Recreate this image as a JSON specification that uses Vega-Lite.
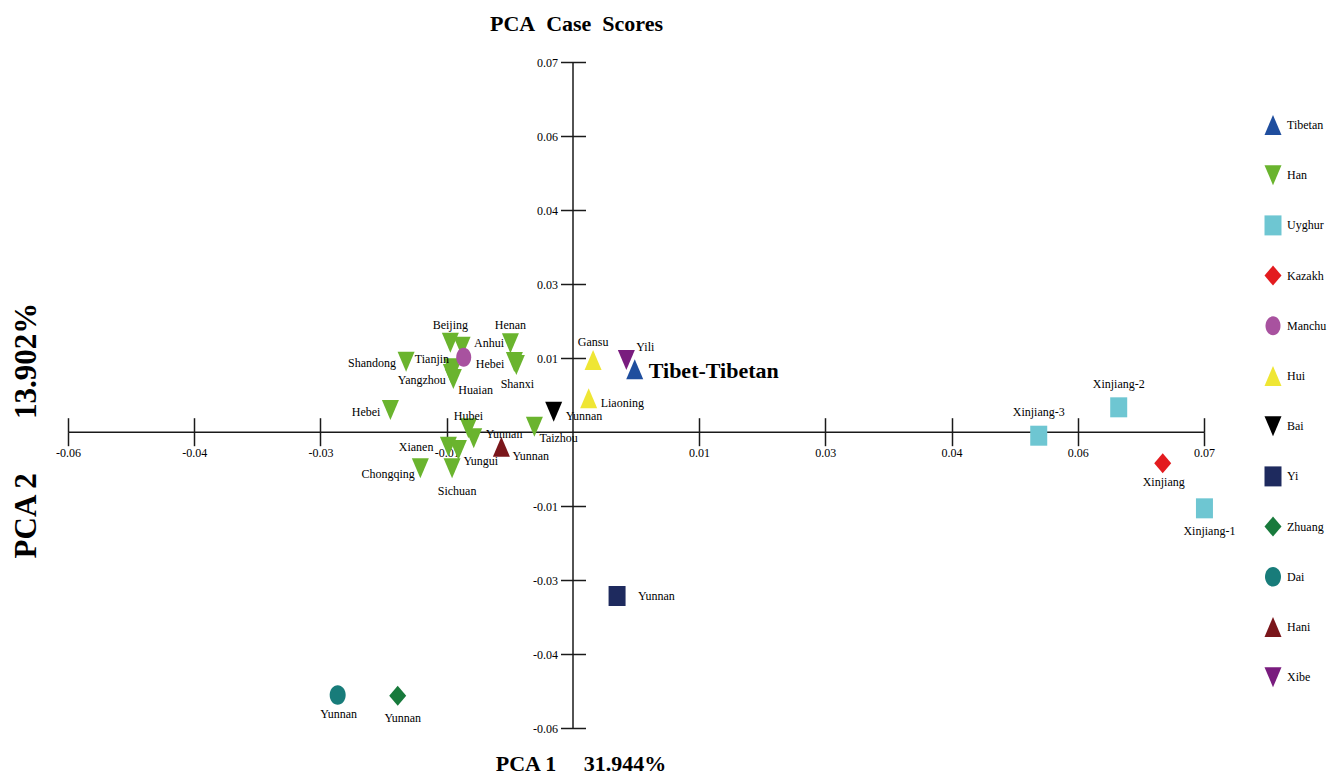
{
  "$schema": "https://vega.github.io/schema/vega-lite/v6.json",
  "autosize": "none",
  "width": 1136,
  "height": 666,
  "padding": {"left": 68, "top": 62, "right": 137, "bottom": 47},
  "background": "white",
  "title": {"text": "PCA\u00a0 Case\u00a0 Scores", "anchor": "middle", "frame": "group", "dx": -59.5, "fontSize": 22, "font": "Liberation Serif", "fontWeight": "bold", "color": "black", "baseline": "alphabetic", "offset": 3},
  "config": {"view": {"stroke": null}, "font": "Liberation Serif"},
  "data": {"values": [
    {"id": "Han-Beijing", "group": "Han", "label": "Beijing", "pc1": -0.01359, "pc2": 0.01690},
    {"id": "Han-Anhui", "group": "Han", "label": "Anhui", "pc1": -0.01229, "pc2": 0.01614},
    {"id": "Han-Henan", "group": "Han", "label": "Henan", "pc1": -0.00693, "pc2": 0.01678},
    {"id": "Han-Hebei", "group": "Han", "label": "Hebei", "pc1": -0.00649, "pc2": 0.01324},
    {"id": "Han-Shanxi", "group": "Han", "label": "Shanxi", "pc1": -0.00627, "pc2": 0.01268},
    {"id": "Han-Shandong", "group": "Han", "label": "Shandong", "pc1": -0.01850, "pc2": 0.01330},
    {"id": "Han-Tianjin", "group": "Han", "label": "Tianjin", "pc1": -0.01340, "pc2": 0.01205},
    {"id": "Han-Yangzhou", "group": "Han", "label": "Yangzhou", "pc1": -0.01348, "pc2": 0.01097},
    {"id": "Han-Huaian", "group": "Han", "label": "Huaian", "pc1": -0.01326, "pc2": 0.01003},
    {"id": "Han-Hebei-2", "group": "Han", "label": "Hebei", "pc1": -0.02024, "pc2": 0.00416},
    {"id": "Han-Hubei", "group": "Han", "label": "Hubei", "pc1": -0.01159, "pc2": 0.00070},
    {"id": "Han-Yunnan", "group": "Han", "label": "Yunnan", "pc1": -0.01100, "pc2": -0.00119},
    {"id": "Han-Taizhou", "group": "Han", "label": "Taizhou", "pc1": -0.00427, "pc2": 0.00100},
    {"id": "Han-Xianen", "group": "Han", "label": "Xianen", "pc1": -0.01381, "pc2": -0.00278},
    {"id": "Han-Yungui", "group": "Han", "label": "Yungui", "pc1": -0.01270, "pc2": -0.00341},
    {"id": "Han-Sichuan", "group": "Han", "label": "Sichuan", "pc1": -0.01340, "pc2": -0.00687},
    {"id": "Han-Chongqing", "group": "Han", "label": "Chongqing", "pc1": -0.01692, "pc2": -0.00687},
    {"id": "Hui-Gansu", "group": "Hui", "label": "Gansu", "pc1": 0.00224, "pc2": 0.01362},
    {"id": "Hui-Liaoning", "group": "Hui", "label": "Liaoning", "pc1": 0.00175, "pc2": 0.00638},
    {"id": "Bai-Yunnan", "group": "Bai", "label": "Yunnan", "pc1": -0.00213, "pc2": 0.00384},
    {"id": "Yi-Yunnan", "group": "Yi", "label": "Yunnan", "pc1": 0.00490, "pc2": -0.03103},
    {"id": "Zhuang-Yunnan", "group": "Zhuang", "label": "Yunnan", "pc1": -0.01943, "pc2": -0.04989},
    {"id": "Dai-Yunnan", "group": "Dai", "label": "Yunnan", "pc1": -0.02609, "pc2": -0.04976},
    {"id": "Hani-Yunnan", "group": "Hani", "label": "Yunnan", "pc1": -0.00793, "pc2": -0.00278},
    {"id": "Uyghur-Xinjiang-3", "group": "Uyghur", "label": "Xinjiang-3", "pc1": 0.05167, "pc2": -0.00070},
    {"id": "Uyghur-Xinjiang-2", "group": "Uyghur", "label": "Xinjiang-2", "pc1": 0.06054, "pc2": 0.00467},
    {"id": "Uyghur-Xinjiang-1", "group": "Uyghur", "label": "Xinjiang-1", "pc1": 0.07005, "pc2": -0.01444},
    {"id": "Kazakh-Xinjiang", "group": "Kazakh", "label": "Xinjiang", "pc1": 0.06542, "pc2": -0.00592},
    {"id": "Xibe-Yili", "group": "Xibe", "label": "Yili", "pc1": 0.00593, "pc2": 0.01362},
    {"id": "Manchu", "group": "Manchu", "label": "", "pc1": -0.01211, "pc2": 0.01413},
    {"id": "Tibetan-Tibet", "group": "Tibetan", "label": "Tibet-Tibetan", "pc1": 0.00686, "pc2": 0.01186}
  ]},
  "resolve": {"axis": {"x": "independent", "y": "independent"}},
  "layer": [
    {
      "mark": {"type": "point", "filled": true, "opacity": 1, "size": 400, "strokeWidth": 0},
      "encoding": {
        "x": {"field": "pc1", "type": "quantitative", "scale": {"domain": [-0.056, 0.07], "nice": false, "zero": false},
          "axis": {"orient": "bottom", "offset": -296.3, "values": [-0.056, -0.042, -0.028, -0.014, 0.014, 0.028, 0.042, 0.056, 0.07],
            "labelExpr": "(datum.value < 0 ? '-' : '') + format(abs(datum.value), '.2f')",
            "tickSize": 14, "labelPadding": 2, "grid": false, "labelFlush": false, "labelOverlap": false,
            "domainColor": "#1a1a1a", "tickColor": "#1a1a1a", "domainWidth": 1.5, "tickWidth": 1.5,
            "labelFont": "Liberation Serif", "labelFontSize": 12, "labelColor": "black",
            "title": "PCA 1\u00a0\u00a0\u00a0\u00a0\u00a031.944%", "titleX": 512.5, "titleY": 339, "titleAlign": "center", "titleBaseline": "alphabetic",
            "titleFont": "Liberation Serif", "titleFontSize": 22, "titleFontWeight": "bold", "titleColor": "black"}},
        "y": {"field": "pc2", "type": "quantitative", "scale": {"domain": [-0.056, 0.07], "nice": false, "zero": false},
          "axis": {"orient": "left", "offset": -504.5, "values": [-0.056, -0.042, -0.028, -0.014, 0.014, 0.028, 0.042, 0.056, 0.07],
            "labelExpr": "(datum.value < 0 ? '-' : '') + format(abs(datum.value), '.2f')",
            "tickSize": 12, "labelPadding": 3, "grid": false, "labelFlush": false, "labelOverlap": false,
            "domainColor": "#1a1a1a", "tickColor": "#1a1a1a", "domainWidth": 1.5, "tickWidth": 1.5,
            "labelFont": "Liberation Serif", "labelFontSize": 12, "labelColor": "black",
            "title": "PCA 2\u00a0\u00a0\u00a0\u00a0\u00a0\u00a0\u00a013.902%", "titleX": -537.5, "titleY": 368, "titleAngle": -90, "titleAlign": "center", "titleBaseline": "alphabetic",
            "titleFont": "Liberation Serif", "titleFontSize": 31, "titleFontWeight": "bold", "titleColor": "black"}},
        "color": {"field": "group", "type": "nominal",
          "scale": {"domain": ["Tibetan", "Han", "Uyghur", "Kazakh", "Manchu", "Hui", "Bai", "Yi", "Zhuang", "Dai", "Hani", "Xibe"],
            "range": ["#1F4E9E", "#6AB42E", "#6EC6D2", "#E31B1F", "#A8529F", "#EFE634", "#000000", "#1E2A5E", "#187A3C", "#187C7A", "#7A161B", "#791C7E"]},
          "legend": {"orient": "none", "legendX": 1195, "legendY": 53, "title": null, "padding": 0, "rowPadding": 30.2, "symbolSize": 400,
            "labelFont": "Liberation Serif", "labelFontSize": 12, "labelColor": "black", "labelOffset": 4, "symbolStrokeWidth": 0, "symbolOpacity": 1}},
        "shape": {"field": "group", "type": "nominal",
          "scale": {"domain": ["Tibetan", "Han", "Uyghur", "Kazakh", "Manchu", "Hui", "Bai", "Yi", "Zhuang", "Dai", "Hani", "Xibe"],
            "range": ["M0,-1L0.85,1L-0.85,1Z", "M-0.85,-1L0.85,-1L0,1Z", "M-0.85,-1L0.85,-1L0.85,1L-0.85,1Z", "M0,-1L0.85,0L0,1L-0.85,0Z",
              "M-0.75,0A0.75,0.95,0,1,0,0.75,0A0.75,0.95,0,1,0,-0.75,0Z", "M0,-1L0.85,1L-0.85,1Z", "M-0.85,-1L0.85,-1L0,1Z", "M-0.85,-1L0.85,-1L0.85,1L-0.85,1Z",
              "M0,-1L0.85,0L0,1L-0.85,0Z", "M-0.8,0A0.8,0.98,0,1,0,0.8,0A0.8,0.98,0,1,0,-0.8,0Z", "M0,-1L0.85,1L-0.85,1Z", "M-0.85,-1L0.85,-1L0,1Z"]}}
      }
    },
    {
      "transform": [{"filter": {"field": "id", "equal": "Tibetan-Tibet"}}],
      "mark": {"type": "text", "align": "left", "baseline": "middle", "dx": 14, "dy": 2, "font": "Liberation Serif", "fontSize": 22, "fontWeight": "bold", "color": "black"},
      "encoding": {
        "x": {"field": "pc1", "type": "quantitative", "scale": {"domain": [-0.056, 0.07], "nice": false, "zero": false},
          "axis": {"orient": "top", "offset": -369.7, "values": [-0.056, -0.042, -0.028, -0.014, 0.014, 0.028, 0.042, 0.056, 0.07], "labels": false, "domain": false, "tickSize": 14, "tickColor": "#1a1a1a", "tickWidth": 1.5, "grid": false, "title": null}},
        "y": {"field": "pc2", "type": "quantitative", "scale": {"domain": [-0.056, 0.07], "nice": false, "zero": false},
          "axis": {"orient": "right", "offset": -631.5, "values": [-0.056, -0.042, -0.028, -0.014, 0.014, 0.028, 0.042, 0.056, 0.07], "labels": false, "domain": false, "tickSize": 13, "tickColor": "#1a1a1a", "tickWidth": 1.5, "grid": false, "title": null}},
        "text": {"field": "label"}
      }
    },
    {
      "transform": [{"filter": {"field": "id", "oneOf": ["Han-Beijing", "Han-Henan", "Hui-Gansu"]}}],
      "mark": {"type": "text", "align": "center", "baseline": "middle", "dx": 0, "dy": -18, "font": "Liberation Serif", "fontSize": 12, "color": "black"},
      "encoding": {"x": {"field": "pc1", "type": "quantitative", "axis": null}, "y": {"field": "pc2", "type": "quantitative", "axis": null}, "text": {"field": "label"}}
    },
    {
      "transform": [{"filter": {"field": "id", "oneOf": ["Uyghur-Xinjiang-3", "Uyghur-Xinjiang-2"]}}],
      "mark": {"type": "text", "align": "center", "baseline": "middle", "dx": 0, "dy": -23.5, "font": "Liberation Serif", "fontSize": 12, "color": "black"},
      "encoding": {"x": {"field": "pc1", "type": "quantitative", "axis": null}, "y": {"field": "pc2", "type": "quantitative", "axis": null}, "text": {"field": "label"}}
    },
    {
      "transform": [{"filter": {"field": "id", "oneOf": ["Han-Hubei"]}}],
      "mark": {"type": "text", "align": "center", "baseline": "middle", "dx": 0, "dy": -12, "font": "Liberation Serif", "fontSize": 12, "color": "black"},
      "encoding": {"x": {"field": "pc1", "type": "quantitative", "axis": null}, "y": {"field": "pc2", "type": "quantitative", "axis": null}, "text": {"field": "label"}}
    },
    {
      "transform": [{"filter": {"field": "id", "oneOf": ["Han-Shanxi", "Kazakh-Xinjiang", "Dai-Yunnan"]}}],
      "mark": {"type": "text", "align": "center", "baseline": "middle", "dx": 1, "dy": 19, "font": "Liberation Serif", "fontSize": 12, "color": "black"},
      "encoding": {"x": {"field": "pc1", "type": "quantitative", "axis": null}, "y": {"field": "pc2", "type": "quantitative", "axis": null}, "text": {"field": "label"}}
    },
    {
      "transform": [{"filter": {"field": "id", "oneOf": ["Han-Sichuan", "Zhuang-Yunnan", "Uyghur-Xinjiang-1"]}}],
      "mark": {"type": "text", "align": "center", "baseline": "middle", "dx": 5, "dy": 22.5, "font": "Liberation Serif", "fontSize": 12, "color": "black"},
      "encoding": {"x": {"field": "pc1", "type": "quantitative", "axis": null}, "y": {"field": "pc2", "type": "quantitative", "axis": null}, "text": {"field": "label"}}
    },
    {
      "transform": [{"filter": {"field": "id", "oneOf": ["Han-Anhui", "Han-Yunnan"]}}],
      "mark": {"type": "text", "align": "left", "baseline": "middle", "dx": 12, "dy": -4, "font": "Liberation Serif", "fontSize": 12, "color": "black"},
      "encoding": {"x": {"field": "pc1", "type": "quantitative", "axis": null}, "y": {"field": "pc2", "type": "quantitative", "axis": null}, "text": {"field": "label"}}
    },
    {
      "transform": [{"filter": {"field": "id", "oneOf": ["Hui-Liaoning", "Bai-Yunnan"]}}],
      "mark": {"type": "text", "align": "left", "baseline": "middle", "dx": 12, "dy": 4.5, "font": "Liberation Serif", "fontSize": 12, "color": "black"},
      "encoding": {"x": {"field": "pc1", "type": "quantitative", "axis": null}, "y": {"field": "pc2", "type": "quantitative", "axis": null}, "text": {"field": "label"}}
    },
    {
      "transform": [{"filter": {"field": "id", "oneOf": ["Hani-Yunnan"]}}],
      "mark": {"type": "text", "align": "left", "baseline": "middle", "dx": 11, "dy": 9, "font": "Liberation Serif", "fontSize": 12, "color": "black"},
      "encoding": {"x": {"field": "pc1", "type": "quantitative", "axis": null}, "y": {"field": "pc2", "type": "quantitative", "axis": null}, "text": {"field": "label"}}
    },
    {
      "transform": [{"filter": {"field": "id", "oneOf": ["Han-Yungui", "Han-Taizhou", "Han-Huaian"]}}],
      "mark": {"type": "text", "align": "left", "baseline": "middle", "dx": 5, "dy": 11, "font": "Liberation Serif", "fontSize": 12, "color": "black"},
      "encoding": {"x": {"field": "pc1", "type": "quantitative", "axis": null}, "y": {"field": "pc2", "type": "quantitative", "axis": null}, "text": {"field": "label"}}
    },
    {
      "transform": [{"filter": {"field": "id", "oneOf": ["Xibe-Yili"]}}],
      "mark": {"type": "text", "align": "left", "baseline": "middle", "dx": 10, "dy": -13, "font": "Liberation Serif", "fontSize": 12, "color": "black"},
      "encoding": {"x": {"field": "pc1", "type": "quantitative", "axis": null}, "y": {"field": "pc2", "type": "quantitative", "axis": null}, "text": {"field": "label"}}
    },
    {
      "transform": [{"filter": {"field": "id", "oneOf": ["Yi-Yunnan"]}}],
      "mark": {"type": "text", "align": "left", "baseline": "middle", "dx": 21, "dy": 0, "font": "Liberation Serif", "fontSize": 12, "color": "black"},
      "encoding": {"x": {"field": "pc1", "type": "quantitative", "axis": null}, "y": {"field": "pc2", "type": "quantitative", "axis": null}, "text": {"field": "label"}}
    },
    {
      "transform": [{"filter": {"field": "id", "oneOf": ["Han-Hebei", "Han-Shandong", "Han-Hebei-2"]}}],
      "mark": {"type": "text", "align": "right", "baseline": "middle", "dx": -10, "dy": 1.5, "font": "Liberation Serif", "fontSize": 12, "color": "black"},
      "encoding": {"x": {"field": "pc1", "type": "quantitative", "axis": null}, "y": {"field": "pc2", "type": "quantitative", "axis": null}, "text": {"field": "label"}}
    },
    {
      "transform": [{"filter": {"field": "id", "oneOf": ["Han-Xianen"]}}],
      "mark": {"type": "text", "align": "right", "baseline": "middle", "dx": -15, "dy": 0, "font": "Liberation Serif", "fontSize": 12, "color": "black"},
      "encoding": {"x": {"field": "pc1", "type": "quantitative", "axis": null}, "y": {"field": "pc2", "type": "quantitative", "axis": null}, "text": {"field": "label"}}
    },
    {
      "transform": [{"filter": {"field": "id", "oneOf": ["Han-Chongqing", "Han-Yangzhou"]}}],
      "mark": {"type": "text", "align": "right", "baseline": "middle", "dx": -5.5, "dy": 6, "font": "Liberation Serif", "fontSize": 12, "color": "black"},
      "encoding": {"x": {"field": "pc1", "type": "quantitative", "axis": null}, "y": {"field": "pc2", "type": "quantitative", "axis": null}, "text": {"field": "label"}}
    },
    {
      "transform": [{"filter": {"field": "id", "oneOf": ["Han-Tianjin"]}}],
      "mark": {"type": "text", "align": "right", "baseline": "middle", "dx": -3, "dy": -9, "font": "Liberation Serif", "fontSize": 12, "color": "black"},
      "encoding": {"x": {"field": "pc1", "type": "quantitative", "axis": null}, "y": {"field": "pc2", "type": "quantitative", "axis": null}, "text": {"field": "label"}}
    }
  ]
}
